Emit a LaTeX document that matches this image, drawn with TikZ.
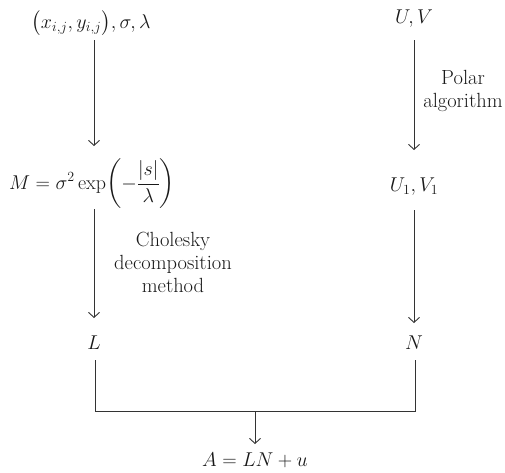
\RequirePackage{fix-cm}
\documentclass[tikz,border=0pt]{standalone}
\usepackage{amsmath}
\usetikzlibrary{arrows.meta}
\begin{document}
\begin{tikzpicture}[x=1pt,y=-1pt,
  every node/.style={font=\fontsize{20}{23}\selectfont, text=black!90, inner sep=0pt},
  lab/.style={align=center, font=\fontsize{20.5}{23}\selectfont},
  conn/.style={draw=black!80, line width=0.9pt},
  arr/.style={conn, -{Straight Barb[length=5pt,width=11pt]}}]
\useasboundingbox (0,0) rectangle (505,472);
\node (xy) at (91,23) {$\bigl(x_{i,j},y_{i,j}\bigr),\sigma,\lambda$};
\node (uv) at (414,19) {$U,V$};
\node (M) at (92,184) {$M=\sigma^2\exp\!\left(-\dfrac{|s|}{\lambda}\right)$};
\node (u1) at (414,187) {$U_1,V_1$};
\node (L) at (94,343) {$L$};
\node (N) at (414,343) {$N$};
\node (A) at (255,460) {$A=LN+u$};
\coordinate (j) at (255,411);
\draw[arr] (94,40) -- (94,146);
\draw[arr] (94,209) -- (94,318);
\draw[arr] (414,40) -- (414,150);
\draw[arr] (414,210) -- (414,323);
\node[lab] (pol) at (463,91) {Polar\\algorithm};
\node[lab] (cho) at (173,262) {Cholesky\\decomposition\\method};
\draw[conn] (95,360) |- (j) -| (415,360);
\draw[arr] (j) -- (255,444);
\end{tikzpicture}
\end{document}
